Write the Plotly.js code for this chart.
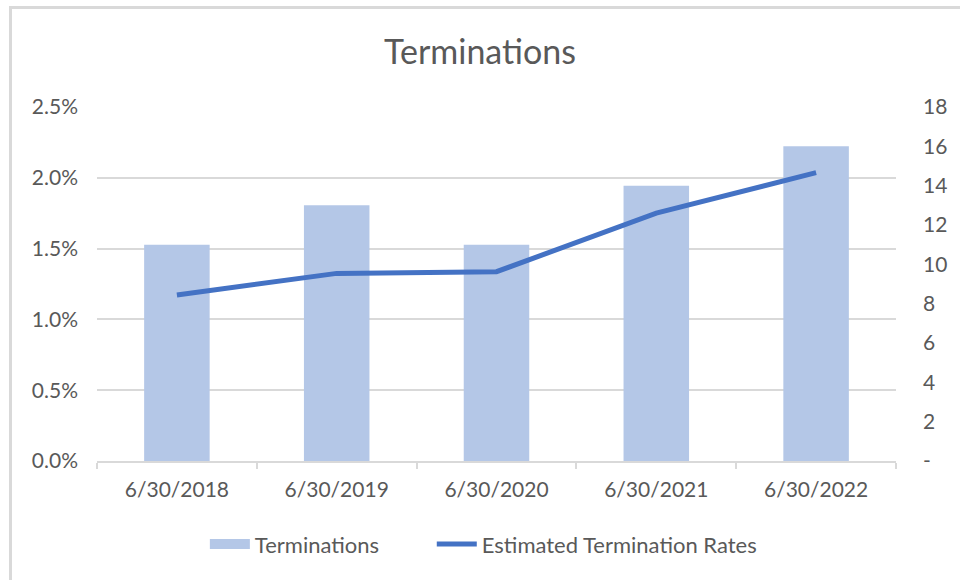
<!DOCTYPE html>
<html>
<head>
<meta charset="utf-8">
<script src="https://cdn.plot.ly/plotly-3.0.1.min.js"></script>
<style>
  html, body { margin: 0; padding: 0; background: #ffffff; overflow: hidden; }
  #frame { position: absolute; left: 9px; top: 6px; width: 1000px; height: 1000px;
           border-left: 3px solid #d9d9d9; border-top: 3px solid #d9d9d9; box-sizing: border-box; }
  #chart { position: absolute; left: 0; top: 0; width: 960px; height: 580px; }
</style>
</head>
<body>
<div id="frame"></div>
<div id="chart"></div>
<script>
const categories = ["6/30/2018", "6/30/2019", "6/30/2020", "6/30/2021", "6/30/2022"];
const terminations = [11, 13, 11, 14, 16];
const estimatedRates = [0.01172, 0.01325, 0.01337, 0.0175, 0.02037];
const leftTickVals = [0, 0.005, 0.01, 0.015, 0.02, 0.025];
const rightTickVals = [0, 2, 4, 6, 8, 10, 12, 14, 16, 18];
const rightTickText = ["-", "2", "4", "6", "8", "10", "12", "14", "16", "18"];

const FONT = "Lato, 'Open Sans', sans-serif";
const GREY = "#595959";
const BAR_COLOR = "#B4C7E7";
const LINE_COLOR = "#4472C4";

const traces = [
  {
    type: "bar",
    name: "Terminations",
    x: categories,
    y: terminations,
    yaxis: "y",
    marker: { color: BAR_COLOR },
    width: 0.41,
    showlegend: false,
    hoverinfo: "x+y"
  },
  {
    // legend entry drawn as a wide rectangle swatch, like the reference
    type: "scatter",
    mode: "lines",
    name: "Terminations",
    x: [categories[0], categories[1]],
    y: [null, null],
    yaxis: "y",
    legend: "legend",
    line: { color: BAR_COLOR, width: 14 },
    hoverinfo: "skip"
  },
  {
    type: "scatter",
    mode: "lines",
    name: "Estimated Termination Rates",
    x: categories,
    y: estimatedRates,
    yaxis: "y2",
    legend: "legend2",
    line: { color: LINE_COLOR, width: 5 },
    hoverinfo: "x+y"
  }
];

const legendStyle = {
  orientation: "h",
  y: -0.235, yanchor: "middle",
  xanchor: "left",
  font: { family: FONT, size: 22, color: GREY },
  bgcolor: "rgba(0,0,0,0)",
  itemwidth: 40
};

const layout = {
  width: 960,
  height: 580,
  margin: { l: 97, r: 64, t: 107, b: 119 },
  paper_bgcolor: "rgba(0,0,0,0)",
  plot_bgcolor: "rgba(0,0,0,0)",
  font: { family: FONT, color: GREY, size: 21 },
  title: {
    text: "Terminations",
    font: { family: FONT, size: 34, color: GREY },
    x: 0.5, xanchor: "center",
    y: 0.91, yanchor: "middle"
  },
  showlegend: true,
  legend: Object.assign({}, legendStyle, { x: 0.135 }),
  legend2: Object.assign({}, legendStyle, { x: 0.419 }),
  xaxis: {
    type: "category",
    showline: true,
    linecolor: "#d9d9d9",
    linewidth: 2,
    ticks: "outside",
    tickson: "boundaries",
    ticklen: 6,
    tickcolor: "#d9d9d9",
    tickwidth: 2,
    showgrid: false,
    tickfont: { family: FONT, size: 21, color: GREY },
    ticklabelstandoff: 9
  },
  yaxis: {
    side: "right",
    range: [0, 18],
    tickvals: rightTickVals,
    ticktext: rightTickText,
    showgrid: false,
    zeroline: false,
    showline: false,
    ticks: "",
    ticklabelstandoff: 26,
    tickfont: { family: FONT, size: 21, color: GREY }
  },
  yaxis2: {
    overlaying: "y",
    side: "left",
    range: [0, 0.025],
    tickvals: leftTickVals,
    tickformat: ".1%",
    showgrid: true,
    gridcolor: "#d9d9d9",
    gridwidth: 2,
    zeroline: false,
    showline: false,
    ticks: "",
    ticklabelstandoff: 18,
    tickfont: { family: FONT, size: 21, color: GREY }
  },
  bargap: 0.59
};

Plotly.newPlot("chart", traces, layout, { displayModeBar: false, staticPlot: true });
</script>
</body>
</html>
